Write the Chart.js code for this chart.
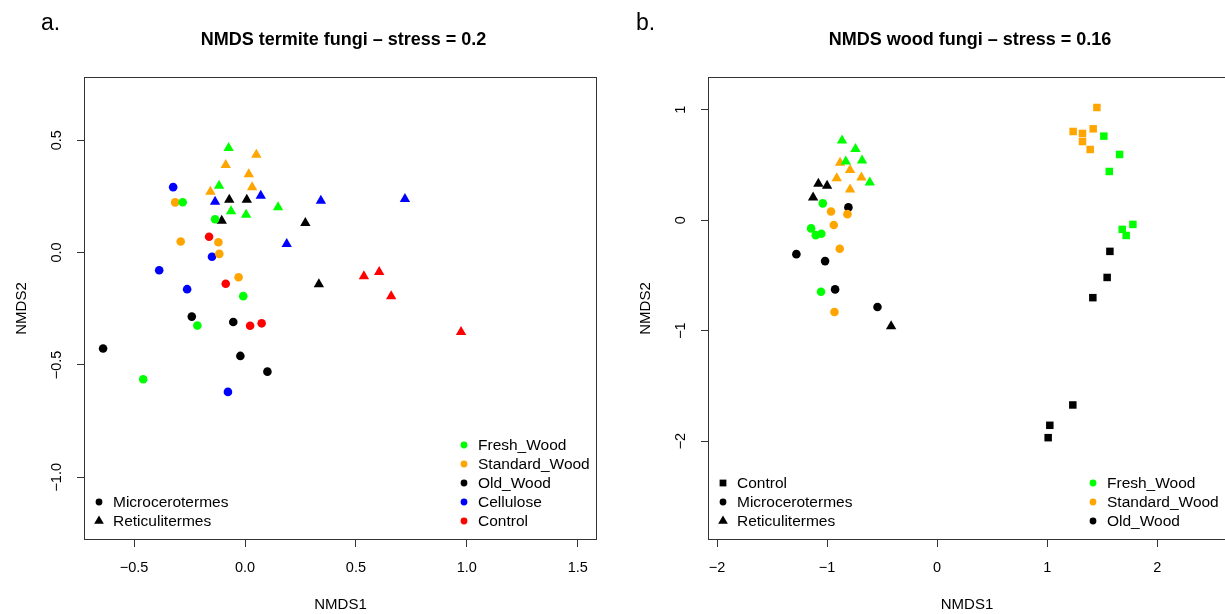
<!DOCTYPE html>
<html>
<head>
<meta charset="utf-8">
<title>NMDS fungi</title>
<script src="https://cdn.jsdelivr.net/npm/chart.js@4.4.0/dist/chart.umd.min.js"></script>
<style>
    html, body { margin: 0; padding: 0; overflow: hidden; background: #fff; width: 1225px; height: 614px; }
    .panel { position: absolute; top: 0; height: 614px; }
    #wrapA { left: 0; width: 612px; }
    #wrapB { left: 612px; width: 625px; }
    .tag { position: absolute; font-family: "Liberation Sans", Arial, sans-serif; font-size: 23px; color: #000; line-height: 26px; }
</style>
</head>
<body>
<div class="panel" id="wrapA"><canvas id="chartA" width="612" height="614"></canvas></div>
<div class="panel" id="wrapB"><canvas id="chartB" width="625" height="614"></canvas></div>
<div class="tag" style="left:41px; top:9px;">a.</div>
<div class="tag" style="left:636px; top:9px;">b.</div>
<script>
// ---- panel a: termite fungi, [NMDS1, NMDS2] ----
var aFreshMicro = [[-0.281, 0.224], [-0.135, 0.148], [-0.008, -0.194], [-0.215, -0.325], [-0.459, -0.564]];
var aFreshReti  = [[-0.074, 0.465], [-0.117, 0.297], [-0.063, 0.184], [0.005, 0.168], [0.149, 0.202]];
var aStdMicro   = [[-0.315, 0.223], [-0.290, 0.049], [-0.120, 0.046], [-0.116, -0.006], [-0.029, -0.110]];
var aStdReti    = [[0.051, 0.435], [-0.087, 0.389], [0.017, 0.348], [0.032, 0.291], [-0.156, 0.270]];
var aOldMicro   = [[-0.240, -0.285], [-0.053, -0.309], [-0.640, -0.427], [-0.021, -0.460], [0.101, -0.530]];
var aOldReti    = [[-0.071, 0.235], [0.008, 0.235], [-0.105, 0.141], [0.272, 0.131], [0.333, -0.141]];
var aCellMicro  = [[-0.324, 0.291], [-0.149, -0.019], [-0.387, -0.079], [-0.261, -0.163], [-0.077, -0.620]];
var aCellReti   = [[-0.135, 0.226], [0.071, 0.253], [0.342, 0.230], [0.721, 0.238], [0.188, 0.038]];
var aCtrlMicro  = [[-0.162, 0.070], [-0.087, -0.139], [0.023, -0.326], [0.075, -0.315]];
var aCtrlReti   = [[0.536, -0.106], [0.605, -0.087], [0.659, -0.195], [0.974, -0.354]];
var aXTicks = [-0.5, 0, 0.5, 1, 1.5];
var aYTicks = [-1, -0.5, 0, 0.5];

// ---- panel b: wood fungi, [NMDS1, NMDS2] ----
var bFreshMicro = [[-1.039, 0.151], [-1.145, -0.075], [-1.103, -0.136], [-1.052, -0.124], [-1.055, -0.648]];
var bFreshReti  = [[-0.864, 0.720], [-0.742, 0.644], [-0.682, 0.539], [-0.830, 0.530], [-0.612, 0.340]];
var bFreshCtrl  = [[1.515, 0.760], [1.658, 0.594], [1.564, 0.440], [1.779, -0.039], [1.682, -0.084], [1.718, -0.139]];
var bStdMicro   = [[-0.964, 0.078], [-0.815, 0.054], [-0.939, -0.045], [-0.885, -0.259], [-0.933, -0.832]];
var bStdReti    = [[-0.882, 0.518], [-0.791, 0.454], [-0.912, 0.379], [-0.688, 0.385], [-0.791, 0.276]];
var bStdCtrl    = [[1.452, 1.019], [1.236, 0.802], [1.321, 0.784], [1.418, 0.826], [1.321, 0.711], [1.391, 0.639]];
var bOldMicro   = [[-0.806, 0.115], [-1.279, -0.308], [-1.018, -0.371], [-0.927, -0.627], [-0.542, -0.787]];
var bOldReti    = [[-1.079, 0.328], [-1.000, 0.310], [-1.127, 0.204], [-0.418, -0.960]];
var bOldCtrl    = [[1.570, -0.283], [1.545, -0.519], [1.415, -0.702], [1.233, -1.673], [1.024, -1.857], [1.009, -1.969]];
var bXTicks = [-2, -1, 0, 1, 2];
var bYTicks = [-2, -1, 0, 1];

var GREEN = '#00ff00', ORANGE = '#ffa500', BLACK = '#000000', BLUE = '#0000ff', RED = '#ff0000';
var FONT = '"Liberation Sans", Arial, sans-serif';

function fmtA(v) { return v.toFixed(1).replace('-', '\u2212'); }
function fmtB(v) { return String(v).replace('-', '\u2212'); }

function ds(label, arr, color, style) {
    var r = style === 'circle' ? 4.3 : (style === 'triangle' ? 6 : 5.3);
    return {
        label: label,
        data: arr.map(p => ({ x: p[0], y: p[1] })),
        pointStyle: style,
        pointRadius: r,
        pointHoverRadius: r,
        backgroundColor: color,
        borderColor: color,
        borderWidth: 0
    };
}

function marker(ctx, style, x, y, r) {
    ctx.beginPath();
    if (style === 'circle') {
        ctx.arc(x, y, r, 0, Math.PI * 2);
    } else if (style === 'triangle') {
        ctx.moveTo(x, y - r);
        ctx.lineTo(x + r * 0.866, y + r * 0.5);
        ctx.lineTo(x - r * 0.866, y + r * 0.5);
        ctx.closePath();
    } else {
        ctx.rect(x - r * 0.707, y - r * 0.707, r * 1.414, r * 1.414);
    }
    ctx.fill();
}

// R-style box, rotated y labels, main title and the two legends
function rStyle(cfg) {
    return {
        id: 'rStyle',
        afterDraw(chart) {
            var ctx = chart.ctx, a = chart.chartArea, ys = chart.scales.y;
            ctx.save();
            ctx.strokeStyle = '#333';
            ctx.lineWidth = 1;
            ctx.strokeRect(a.left + 0.5, a.top + 0.5, a.right - a.left - 1, a.bottom - a.top - 1);

            ctx.fillStyle = '#000';
            ctx.font = '14.5px ' + FONT;
            ctx.textAlign = 'center';
            ctx.textBaseline = 'middle';
            cfg.yTicks.forEach(v => {
                ctx.save();
                ctx.translate(a.left - 27, ys.getPixelForValue(v));
                ctx.rotate(-Math.PI / 2);
                ctx.fillText(cfg.fmt(v), 0, 0);
                ctx.restore();
            });

            ctx.font = 'bold 18px ' + FONT;
            ctx.fillText(cfg.title, (a.left + a.right) / 2 + 3, 40);

            ctx.font = '15.5px ' + FONT;
            ctx.textAlign = 'left';
            cfg.legends.forEach(lg => {
                var mx = lg.side === 'left' ? a.left + 15 : a.right - 133;
                lg.items.forEach((it, i) => {
                    var y = a.bottom - 19 - (lg.items.length - 1 - i) * 19;
                    ctx.fillStyle = it.color;
                    marker(ctx, it.style, mx, y, it.r);
                    ctx.fillStyle = '#000';
                    ctx.fillText(it.label, mx + 14, y + 1);
                });
            });
            ctx.restore();
        }
    };
}

function buildChart(id, p) {
    return new Chart(document.getElementById(id), {
        type: 'scatter',
        data: { datasets: p.datasets },
        options: {
            responsive: false,
            animation: false,
            events: [],
            layout: { padding: { left: p.padLeft, right: p.padRight, top: 77, bottom: 0 } },
            plugins: { legend: { display: false }, tooltip: { enabled: false } },
            scales: {
                x: {
                    type: 'linear',
                    min: p.xMin,
                    max: p.xMax,
                    afterBuildTicks: s => { s.ticks = p.xTicks.map(v => ({ value: v })); },
                    afterFit: s => { s.height = 74; },
                    border: { display: false },
                    grid: { drawOnChartArea: false, drawTicks: true, tickLength: 7, color: '#333' },
                    ticks: { color: '#000', font: { family: FONT, size: 14.5 }, padding: 12, maxRotation: 0, autoSkip: false, callback: v => p.fmt(v) },
                    title: { display: true, text: 'NMDS1', color: '#000', font: { family: FONT, size: 15 }, padding: { top: 0, bottom: 0 } }
                },
                y: {
                    type: 'linear',
                    min: p.yMin,
                    max: p.yMax,
                    afterBuildTicks: s => { s.ticks = p.yTicks.map(v => ({ value: v })); },
                    afterFit: s => { s.width = 78; },
                    border: { display: false },
                    grid: { drawOnChartArea: false, drawTicks: true, tickLength: 7, color: '#333' },
                    ticks: { display: false },
                    title: { display: true, text: 'NMDS2', color: '#000', font: { family: FONT, size: 15 }, padding: { top: 7, bottom: 0 } }
                }
            }
        },
        plugins: [rStyle(p)]
    });
}

buildChart('chartA', {
    title: 'NMDS termite fungi \u2013 stress = 0.2',
    padLeft: 6, padRight: 15,
    xMin: -0.726, xMax: 1.587, yMin: -1.279, yMax: 0.781,
    xTicks: aXTicks, yTicks: aYTicks, fmt: fmtA,
    datasets: [
        ds('Fresh_Wood Microcerotermes', aFreshMicro, GREEN, 'circle'),
        ds('Standard_Wood Microcerotermes', aStdMicro, ORANGE, 'circle'),
        ds('Old_Wood Microcerotermes', aOldMicro, BLACK, 'circle'),
        ds('Cellulose Microcerotermes', aCellMicro, BLUE, 'circle'),
        ds('Control Microcerotermes', aCtrlMicro, RED, 'circle'),
        ds('Fresh_Wood Reticulitermes', aFreshReti, GREEN, 'triangle'),
        ds('Standard_Wood Reticulitermes', aStdReti, ORANGE, 'triangle'),
        ds('Old_Wood Reticulitermes', aOldReti, BLACK, 'triangle'),
        ds('Cellulose Reticulitermes', aCellReti, BLUE, 'triangle'),
        ds('Control Reticulitermes', aCtrlReti, RED, 'triangle')
    ],
    legends: [
        { side: 'left', items: [
            { label: 'Microcerotermes', style: 'circle', color: BLACK, r: 3.4 },
            { label: 'Reticulitermes', style: 'triangle', color: BLACK, r: 5.6 }
        ] },
        { side: 'right', items: [
            { label: 'Fresh_Wood', style: 'circle', color: GREEN, r: 3.4 },
            { label: 'Standard_Wood', style: 'circle', color: ORANGE, r: 3.4 },
            { label: 'Old_Wood', style: 'circle', color: BLACK, r: 3.4 },
            { label: 'Cellulose', style: 'circle', color: BLUE, r: 3.4 },
            { label: 'Control', style: 'circle', color: RED, r: 3.4 }
        ] }
    ]
});

buildChart('chartB', {
    title: 'NMDS wood fungi \u2013 stress = 0.16',
    padLeft: 18, padRight: 11,
    xMin: -2.082, xMax: 2.625, yMin: -2.895, yMax: 1.295,
    xTicks: bXTicks, yTicks: bYTicks, fmt: fmtB,
    datasets: [
        ds('Fresh_Wood Control', bFreshCtrl, GREEN, 'rect'),
        ds('Standard_Wood Control', bStdCtrl, ORANGE, 'rect'),
        ds('Old_Wood Control', bOldCtrl, BLACK, 'rect'),
        ds('Fresh_Wood Microcerotermes', bFreshMicro, GREEN, 'circle'),
        ds('Standard_Wood Microcerotermes', bStdMicro, ORANGE, 'circle'),
        ds('Old_Wood Microcerotermes', bOldMicro, BLACK, 'circle'),
        ds('Fresh_Wood Reticulitermes', bFreshReti, GREEN, 'triangle'),
        ds('Standard_Wood Reticulitermes', bStdReti, ORANGE, 'triangle'),
        ds('Old_Wood Reticulitermes', bOldReti, BLACK, 'triangle')
    ],
    legends: [
        { side: 'left', items: [
            { label: 'Control', style: 'rect', color: BLACK, r: 4.8 },
            { label: 'Microcerotermes', style: 'circle', color: BLACK, r: 3.4 },
            { label: 'Reticulitermes', style: 'triangle', color: BLACK, r: 5.6 }
        ] },
        { side: 'right', items: [
            { label: 'Fresh_Wood', style: 'circle', color: GREEN, r: 3.4 },
            { label: 'Standard_Wood', style: 'circle', color: ORANGE, r: 3.4 },
            { label: 'Old_Wood', style: 'circle', color: BLACK, r: 3.4 }
        ] }
    ]
});
</script>
</body>
</html>
